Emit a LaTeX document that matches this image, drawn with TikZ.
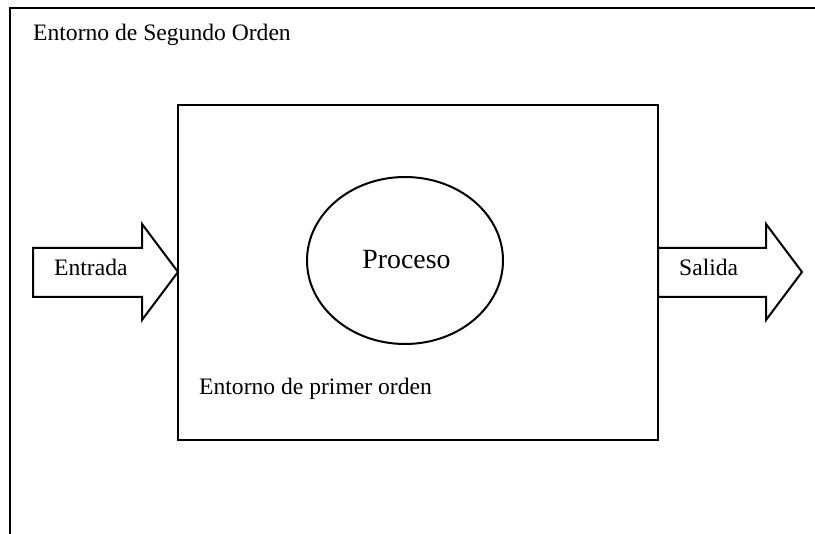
\documentclass[tikz,border=0pt]{standalone}
\usepackage{fontspec}
\setmainfont{Liberation Serif}
\begin{document}
\begin{tikzpicture}[x=1pt,y=-1pt,
  line/.style={draw=black,line width=2pt},
  lbl/.style={anchor=base west,inner sep=0pt,font=\fontsize{23.6}{28}\selectfont}]
\useasboundingbox (0,0) rectangle (815,534);
% outer environment (cropped)
\draw[line] (10,534) -- (10,8) -- (815,8);
% inner environment
\draw[line] (178,105) rectangle (658,440);
% process
\draw[line] (405,260.5) ellipse [x radius=98, y radius=83.5];
% input arrow
\draw[line,line join=miter] (33,248) -- (142,248) -- (142,224) -- (178,272) -- (142,320) -- (142,297) -- (33,297) -- cycle;
% output arrow
\draw[line,line join=miter] (658,248) -- (766,248) -- (766,224) -- (802,272) -- (766,320) -- (766,297) -- (658,297) -- cycle;
\node[lbl] (seg) at (33,41) {Entorno de Segundo Orden};
\node[lbl] (ent) at (54,276) {Entrada};
\node[lbl] (sal) at (679,276) {Salida};
\node[lbl,anchor=base,font=\fontsize{27.8}{32}\selectfont] (proc) at (406.5,269) {Proceso};
\node[lbl] (prim) at (199,395) {Entorno de primer orden};
\end{tikzpicture}
\end{document}
